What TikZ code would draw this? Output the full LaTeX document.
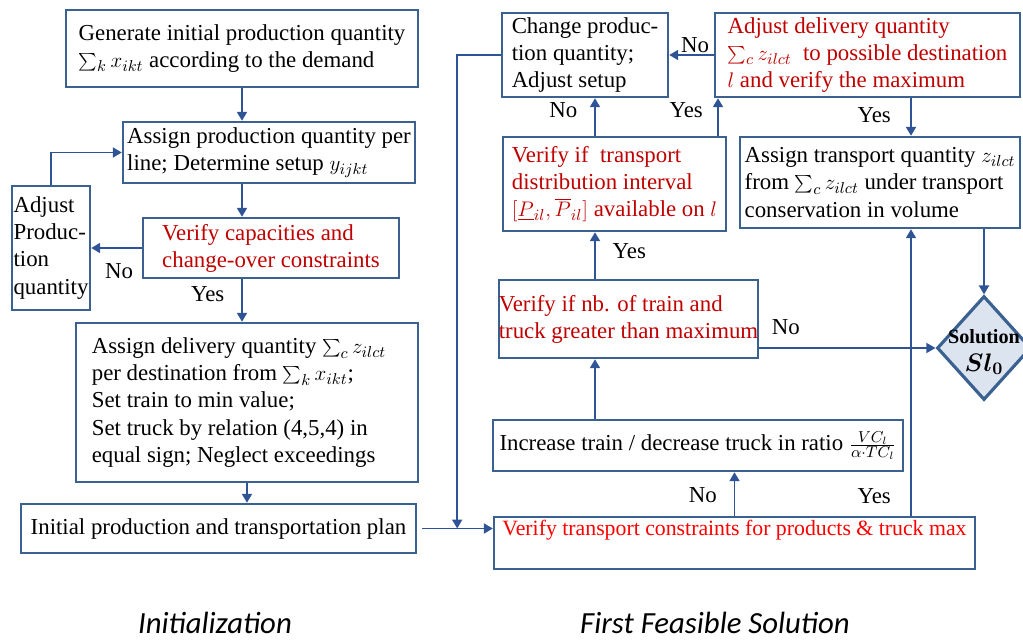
\documentclass[tikz,border=0pt]{standalone}
\usepackage{fontspec}
\setmainfont{Liberation Serif}
\newfontfamily\captionFont{Carlito}
\usetikzlibrary{arrows.meta,shapes.geometric}

\definecolor{boxBlue}{HTML}{3A6190}
\definecolor{lineBlue}{HTML}{2F5496}
\definecolor{checkRed}{HTML}{C00000}
\definecolor{brightRed}{HTML}{FF0000}
\definecolor{solFill}{HTML}{DCE4F0}

\newcommand{\pxUnit}{0.02cm}
\newcommand{\boxFont}{\fontsize{13}{15.4}\selectfont}
\newcommand{\capFont}{\captionFont\itshape\fontsize{17.5}{20}\selectfont}

\begin{document}
\begin{tikzpicture}[x=\pxUnit, y=-\pxUnit,
  box/.style={draw=boxBlue, line width=1.4pt, align=left, font=\boxFont, inner sep=0pt},
  check/.style={box, text=checkRed},
  solDiamond/.style={diamond, draw=boxBlue, line width=1.8pt, fill=solFill, inner sep=0pt, minimum width=1.88cm, minimum height=2.08cm},
  arr/.style={lineBlue, line width=1.1pt, -{Triangle[width=0.2cm,length=0.18cm]}},
  lbl/.style={font=\boxFont, text=black, inner sep=1pt}]
\useasboundingbox (0,0) rectangle (1023,639);

% Initialization
\node[box, minimum width=7.04cm, minimum height=1.54cm] (gen) at (242,48.5)
  {Generate initial production quantity\\ $\sum_k x_{ikt}$ according to the demand};
\node[box, minimum width=5.84cm, minimum height=1.22cm] (assignprod) at (269,152.5)
  {Assign production quantity per\\ line; Determine setup $y_{ijkt}$};
\node[check, minimum width=5.12cm, minimum height=1.2cm] (verifycap) at (271,248)
  {Verify capacities and\\ change-over constraints};
\node[box, minimum width=1.56cm, minimum height=2.48cm] (adjustprod) at (51,248)
  {Adjust\\ Produc-\\ tion\\ quantity};
\node[box, minimum width=6.84cm, minimum height=3.18cm] (delivery) at (247,402.5)
  {Assign delivery quantity $\sum_c z_{ilct}$\hspace*{0.32cm}\\ per destination from $\sum_k x_{ikt}$;\\
   Set train to min value;\\ Set truck by relation (4,5,4) in\\ equal sign; Neglect exceedings};
\node[box, minimum width=7.9cm, minimum height=0.98cm] (initplan) at (218.5,528.5)
  {Initial production and transportation plan};

% First feasible solution
\node[box, minimum width=3.32cm, minimum height=1.68cm] (change) at (585,55)
  {Change produc-\\ tion quantity;\\ Adjust setup};
\node[check, minimum width=6.1cm, minimum height=1.68cm] (adjdel) at (867.5,55)
  {Adjust delivery quantity\\ $\sum_c z_{ilct}$ \ to possible destination\\ $l$ and verify the maximum};
\node[check, minimum width=4.46cm, minimum height=1.88cm] (interval) at (614.5,184)
  {Verify if \ transport\\ distribution interval\\
   $\bigl[\underline{P}_{il},\overline{P}_{il}\bigr]$ available on $l$};
\node[box, minimum width=5.6cm, minimum height=1.82cm] (assigntr) at (880,182.5)
  {Assign transport quantity $z_{ilct}$\\ from $\sum_c z_{ilct}$ under transport\\ conservation in volume};
\node[check, minimum width=5.18cm, minimum height=1.56cm] (verifynb) at (628.5,319)
  {Verify if nb. of train and\\ truck greater than maximum};
\node[box, minimum width=8.2cm, minimum height=1.02cm] (increase) at (698,445.5)
  {Increase train / decrease truck in ratio $\frac{VC_l}{\alpha\cdot TC_l}$};
\node[box, text=brightRed, font=\fontsize{12.4}{15}\selectfont, text depth=0.6cm, minimum width=9.62cm, minimum height=1.04cm] (verifytr) at (734.5,543)
  {Verify transport constraints for products \& truck max};
\node[solDiamond] (sol) at (984,348) {};
\node[align=center, inner sep=0pt, font=\fontsize{11.5}{16}\selectfont] (solText) at ([yshift=-0.08cm]sol.center)
  {\bfseries Solution\\ {\fontsize{14}{14}\selectfont\boldmath$Sl_0$}};

\coordinate (drop) at ([xshift=0.8cm]initplan.east);
\coordinate (leftCol) at (595,0);
\coordinate (rightCol) at (718,0);
\coordinate (upCol) at (911,0);

\draw[arr] (gen.south) -- (gen.south |- assignprod.north);
\draw[arr] (gen.south |- assignprod.south) -- (gen.south |- verifycap.north);
\draw[arr] (gen.south |- verifycap.south) -- node[lbl, left=0.3cm, pos=0.35] {Yes} (gen.south |- delivery.north);
\draw[arr] (delivery.south) -- (delivery.south |- initplan.north);
\draw[arr] (verifycap.west) -- node[lbl, below=0.25cm, pos=0.45] {No} (adjustprod.east);
\draw[arr] (adjustprod.north) |- (assignprod.west);
\draw[arr] ([xshift=0.1cm]initplan.east) -- (initplan.east -| verifytr.west);
\draw[arr] (change.west) -| (drop);

\draw[arr] (adjdel.west) -- node[lbl, above, pos=0.42] {No} (change.east);
\draw[arr] (interval.north -| leftCol) -- node[lbl, left=0.3cm, pos=0.67] {No} (change.south -| leftCol);
\draw[arr] (interval.north -| rightCol) -- node[lbl, left=0.25cm, pos=0.67] {Yes} (adjdel.south -| rightCol);
\draw[arr] (adjdel.south -| upCol) -- node[lbl, left=0.35cm, pos=0.46] {Yes} (assigntr.north -| upCol);
\draw[arr] (verifynb.north -| leftCol) -- node[lbl, right=0.3cm, pos=0.6] {Yes} (interval.south -| leftCol);
\draw[arr] (increase.north -| leftCol) -- (verifynb.south -| leftCol);
\draw[arr] (verifytr.north) -- node[lbl, left=0.3cm, pos=0.48] {No} (verifytr.north |- increase.south);
\draw[arr] (verifytr.north -| upCol) -- node[lbl, left=0.35cm, pos=0.07] {Yes} (assigntr.south -| upCol);
\draw[arr] (assigntr.south -| sol) -- (sol.north);
%\draw[arr] (verifynb.east) -- (sol.west);
\draw[arr, line width=0.8pt] (verifynb.east |- sol.west) -- node[lbl, above=0.22cm, pos=0.15] {No} (sol.west);

\node[font=\capFont] (initCap) at (215,623) {Initialization};
\node[font=\capFont] (ffsCap) at (715,623) {First Feasible Solution};
\end{tikzpicture}
\end{document}
